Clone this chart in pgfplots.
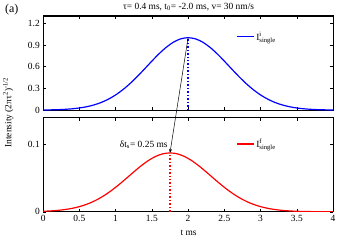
\documentclass[border=0pt]{standalone}
\usepackage{pgfplots}
\pgfplotsset{compat=1.18}
\usepackage{fontspec}
\setmainfont{Liberation Serif}
\setmathrm{Liberation Serif}
\usetikzlibrary{arrows.meta}
\begin{document}
\fontsize{9.5}{11}\selectfont
\begin{tikzpicture}[x=1bp,y=1bp]
\pgfplotsset{
  every axis/.append style={
    scale only axis, width=291bp, height=94.5bp,
    xmin=0, xmax=4, ymin=0,
    xtick={0,0.5,...,4},
    tick align=inside, major tick length=3bp,
    axis line style={line width=1.1pt},
    tick style={line width=0.5pt, black},
    /pgf/number format/assume math mode=true,
    ticklabel style={font=\fontsize{9.5}{11}\selectfont},
    legend style={draw=none, fill=none, font=\fontsize{9.5}{11}\selectfont},
    legend cell align=left,
    legend image code/.code={\draw[#1] (0bp,0bp) -- (17bp,0bp);},
  }
}
\begin{axis}[at={(0bp,0bp)}, anchor=south west,
  ymax=1.3, ytick={0,0.3,0.6,0.9,1.2}, xticklabels={},
  yticklabel style={/pgf/number format/fixed},
  legend style={at={(0.655,0.78)}, anchor=west}]
\addplot[blue, line width=1.2pt, smooth] coordinates {
(0,0.0019) (0.1,0.0036) (0.2,0.0063) (0.3,0.0109) (0.4,0.0183) (0.5,0.0297) (0.6,0.0468) (0.7,0.0713) (0.8,0.1054) (0.9,0.1510) (1.0,0.2096) (1.1,0.2821) (1.2,0.3679) (1.3,0.4650) (1.4,0.5698) (1.5,0.6766) (1.6,0.7788) (1.7,0.8688) (1.8,0.9394) (1.9,0.9845) (2.0,1.0)
(2.1,0.9845) (2.2,0.9394) (2.3,0.8688) (2.4,0.7788) (2.5,0.6766) (2.6,0.5698) (2.7,0.4650) (2.8,0.3679) (2.9,0.2821) (3.0,0.2096) (3.1,0.1510) (3.2,0.1054) (3.3,0.0713) (3.4,0.0468) (3.5,0.0297) (3.6,0.0183) (3.7,0.0109) (3.8,0.0063) (3.9,0.0036) (4.0,0.0019)};
\addlegendentry{$\mathrm{I}^{\mathrm{i}}_{\mathrm{single}}$}
\addplot[blue, line width=1.5pt, dotted, forget plot] coordinates {(2,0) (2,1.0)};
\coordinate (Ptop) at (axis cs:2,1.0);
\end{axis}
\begin{axis}[at={(0bp,-102bp)}, anchor=south west,
  ymax=0.14, ytick={0,0.1},
  yticklabel style={/pgf/number format/fixed},
  legend style={at={(0.655,0.72)}, anchor=west}]
\addplot[red, line width=1.2pt, smooth] coordinates {
(0,0.00073) (0.05,0.00095) (0.15,0.00160) (0.25,0.00260) (0.35,0.00410) (0.45,0.00624) (0.55,0.00922) (0.65,0.01321) (0.75,0.01834) (0.85,0.02468) (0.95,0.03219) (1.05,0.04069) (1.15,0.04986) (1.25,0.05920) (1.35,0.06815) (1.45,0.07602) (1.55,0.08220) (1.65,0.08614) (1.75,0.0875) (1.85,0.08614) (1.95,0.08220) (2.05,0.07602) (2.15,0.06815) (2.25,0.05920) (2.35,0.04986) (2.45,0.04069) (2.55,0.03219) (2.65,0.02468) (2.75,0.01834) (2.85,0.01321) (2.95,0.00922) (3.05,0.00624) (3.15,0.00410) (3.25,0.00260) (3.35,0.00160) (3.45,0.00095) (3.55,0.00055) (3.65,0.00032) (3.75,0.00017) (3.85,0.00009) (3.95,0.00005) (4,0.00003)};
\addlegendentry{$\mathrm{I}^{\mathrm{f}}_{\mathrm{single}}$}
\addplot[red, line width=1.5pt, dotted, forget plot] coordinates {(1.75,0) (1.75,0.0875)};
\coordinate (Pbot) at (axis cs:1.75,0.0875);
\node[anchor=east, inner sep=0pt] at (axis cs:1.72,0.0995) {δt\textsubscript{s}= 0.25 ms};
\end{axis}
\draw[-{Stealth[length=4bp,width=3bp]}, line width=0.5pt] (Ptop) -- (Pbot);
\node at (146bp,103.5bp) {τ= 0.4 ms, t\textsubscript{0}= -2.0 ms, v= 30 nm/s};
\node[font=\fontsize{12}{14}\selectfont] at (-31.5bp,100.5bp) {(a)};
\node[rotate=90] at (-35bp,-2.5bp) {Intensity (2πτ\textsuperscript{2})\textsuperscript{-1/2}};
\node at (146bp,-123.5bp) {t ms};
\path[use as bounding box] (-42bp,-135.5bp) rectangle (308bp,109.5bp);
\end{tikzpicture}
\end{document}
